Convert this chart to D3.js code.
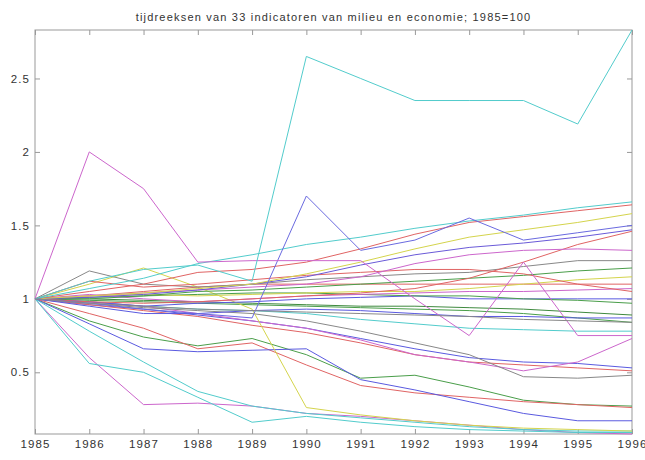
<!DOCTYPE html>
<html>
<head>
<meta charset="utf-8">
<script src="https://cdn.jsdelivr.net/npm/d3@7"></script>
<style>
    body { margin: 0; background: #fff; }
    text { font-family: "Liberation Sans", Arial, sans-serif; fill: #333; }
</style>
</head>
<body>
<div id="chart"></div>
<script>

// years on the x axis
const years = [1985, 1986, 1987, 1988, 1989, 1990, 1991, 1992, 1993, 1994, 1995, 1996];
const yTicks = [0.5, 1, 1.5, 2, 2.5];
const chartTitle = "tijdreeksen van 33 indicatoren van milieu en economie; 1985=100";

// the 33 indicators (1985 = 1)
const ind01 = [1, 0.98, 0.95, 0.93, 0.92, 0.90, 0.86, 0.83, 0.80, 0.79, 0.78, 0.78];
const ind02 = [1, 0.99, 0.98, 0.97, 0.96, 0.95, 0.94, 0.93, 0.92, 0.90, 0.87, 0.84];
const ind03 = [1, 1.00, 0.99, 0.98, 0.97, 0.96, 0.95, 0.95, 0.94, 0.93, 0.91, 0.89];
const ind04 = [1, 0.96, 0.93, 0.89, 0.85, 0.80, 0.73, 0.66, 0.60, 0.57, 0.56, 0.53];
const ind05 = [1, 0.96, 0.92, 0.88, 0.82, 0.77, 0.70, 0.62, 0.57, 0.55, 0.53, 0.51];
const ind06 = [1, 0.98, 0.95, 0.90, 0.85, 0.80, 0.72, 0.62, 0.57, 0.51, 0.57, 0.73];
const ind07 = [1, 0.85, 0.74, 0.68, 0.73, 0.62, 0.46, 0.48, 0.40, 0.31, 0.28, 0.27];
const ind08 = [1, 0.97, 0.94, 0.92, 0.90, 0.85, 0.78, 0.70, 0.62, 0.47, 0.46, 0.48];
const ind09 = [1, 0.90, 0.80, 0.66, 0.70, 0.55, 0.41, 0.36, 0.33, 0.30, 0.28, 0.26];
const ind10 = [1, 0.83, 0.66, 0.64, 0.65, 0.66, 0.45, 0.38, 0.30, 0.22, 0.17, 0.17];
const ind11 = [1, 0.60, 0.28, 0.29, 0.27, 0.22, 0.20, 0.17, 0.14, 0.11, 0.09, 0.08];
const ind12 = [1, 0.56, 0.50, 0.33, 0.16, 0.20, 0.16, 0.13, 0.11, 0.10, 0.09, 0.09];
const ind13 = [1, 0.78, 0.57, 0.37, 0.27, 0.22, 0.19, 0.16, 0.13, 0.11, 0.10, 0.10];
const ind14 = [1, 1.10, 1.21, 1.08, 0.93, 0.26, 0.21, 0.17, 0.14, 0.12, 0.11, 0.10];
const ind15 = [1, 0.95, 0.90, 0.90, 0.92, 0.93, 0.92, 0.90, 0.88, 0.88, 0.87, 0.87];
const ind16 = [1, 0.98, 0.95, 0.97, 0.98, 1.00, 1.01, 1.02, 1.00, 1.00, 1.00, 1.00];
const ind17 = [1, 1.01, 1.02, 1.03, 1.04, 1.04, 1.03, 1.02, 1.02, 1.00, 0.99, 0.97];
const ind18 = [1, 1.03, 1.00, 0.98, 1.00, 1.02, 1.03, 1.04, 1.05, 1.05, 1.06, 1.07];
const ind19 = [1, 1.02, 1.05, 1.08, 1.10, 1.10, 1.10, 1.10, 1.10, 1.10, 1.10, 1.10];
const ind20 = [1, 1.02, 1.03, 1.02, 1.03, 1.04, 1.05, 1.05, 1.07, 1.10, 1.13, 1.15];
const ind21 = [1, 1.00, 1.02, 1.05, 1.06, 1.08, 1.10, 1.12, 1.14, 1.16, 1.19, 1.21];
const ind22 = [1, 1.19, 1.10, 1.08, 1.10, 1.13, 1.15, 1.17, 1.18, 1.22, 1.26, 1.26];
const ind23 = [1, 1.12, 1.08, 1.10, 1.13, 1.16, 1.18, 1.20, 1.20, 1.17, 1.10, 1.05];
const ind24 = [1, 0.98, 0.97, 0.98, 1.00, 1.02, 1.04, 1.07, 1.14, 1.25, 1.37, 1.46];
const ind25 = [1, 1.02, 1.04, 1.06, 1.08, 1.10, 1.15, 1.24, 1.30, 1.33, 1.34, 1.33];
const ind26 = [1, 1.01, 1.03, 1.06, 1.10, 1.15, 1.23, 1.30, 1.35, 1.38, 1.42, 1.47];
const ind27 = [1, 1.02, 1.04, 1.07, 1.10, 1.17, 1.25, 1.34, 1.42, 1.47, 1.52, 1.58];
const ind28 = [1, 1.05, 1.10, 1.18, 1.20, 1.25, 1.34, 1.44, 1.52, 1.56, 1.60, 1.64];
const ind29 = [1, 1.07, 1.14, 1.24, 1.30, 1.37, 1.42, 1.48, 1.53, 1.57, 1.62, 1.66];
const ind30 = [1, 0.97, 0.93, 0.90, 0.87, 1.70, 1.33, 1.40, 1.55, 1.40, 1.45, 1.50];
const ind31 = [1, 2.00, 1.75, 1.25, 1.26, 1.26, 1.26, 1.00, 0.75, 1.25, 0.75, 0.75];
const ind32 = [1, 1.12, 1.20, 1.23, 1.12, 2.65, 2.50, 2.35, 2.35, 2.35, 2.19, 2.83];
const ind33 = [1, 0.97, 0.95, 0.93, 0.92, 0.91, 0.90, 0.89, 0.88, 0.86, 0.85, 0.84];

const indicators = [ind01, ind02, ind03, ind04, ind05, ind06, ind07, ind08, ind09, ind10, ind11,
    ind12, ind13, ind14, ind15, ind16, ind17, ind18, ind19, ind20, ind21, ind22,
    ind23, ind24, ind25, ind26, ind27, ind28, ind29, ind30, ind31, ind32, ind33];

const lineColors = [
    "#52cccc", "#4a9e4a", "#3f8a3f", "#5a5ae0", "#e06464", "#cc66cc", "#4a9e4a",
    "#888888", "#e06464", "#5a5ae0", "#cc66cc", "#52cccc", "#52cccc", "#d4d44c",
    "#5a5ae0", "#5a5ae0", "#4a9e4a", "#cc66cc", "#e06464", "#d4d44c", "#4a9e4a",
    "#888888", "#e06464", "#e06464", "#cc66cc", "#6a5ad8", "#d4d44c", "#e06464",
    "#52cccc", "#6a6ae0", "#cc66cc", "#52cccc", "#888888"
];


class IndicatorChart {

    constructor(_parentElement, _series, _colors) {
        this.parentElement = _parentElement;
        this.series = _series;
        this.colors = _colors;

        this.initVis();
    }

    initVis() {
        let vis = this;

        vis.margin = { top: 30, right: 13, bottom: 26, left: 35 };
        vis.width = 645 - vis.margin.left - vis.margin.right;
        vis.height = 460 - vis.margin.top - vis.margin.bottom;

        vis.root = d3.select("#" + vis.parentElement).append("svg")
            .attr("width", 645)
            .attr("height", 460);

        vis.root.append("text")
            .attr("x", vis.margin.left + vis.width / 2)
            .attr("y", 21)
            .attr("text-anchor", "middle")
            .attr("font-size", 11)
            .attr("letter-spacing", 1.2)
            .text(chartTitle);

        vis.svg = vis.root.append("g")
            .attr("transform", "translate(" + vis.margin.left + "," + vis.margin.top + ")");

        // axis tight, like matlab
        let allValues = vis.series.flat();

        vis.x = d3.scaleLinear()
            .domain(d3.extent(years))
            .range([0, vis.width]);

        vis.y = d3.scaleLinear()
            .domain(d3.extent(allValues))
            .range([vis.height, 0]);

        // box
        vis.svg.append("rect")
            .attr("width", vis.width)
            .attr("height", vis.height)
            .attr("fill", "#fff")
            .attr("stroke", "#999");

        vis.svg.append("g")
            .attr("class", "x-axis")
            .attr("transform", "translate(0," + vis.height + ")")
            .call(d3.axisBottom(vis.x).tickValues(years).tickFormat(d3.format("d"))
                .tickSizeInner(-5).tickSizeOuter(0).tickPadding(6));

        vis.svg.append("g")
            .call(d3.axisTop(vis.x).tickValues(years).tickFormat("")
                .tickSizeInner(-5).tickSizeOuter(0));

        vis.svg.append("g")
            .call(d3.axisLeft(vis.y).tickValues(yTicks).tickFormat(d => String(d))
                .tickSizeInner(-5).tickSizeOuter(0).tickPadding(5));

        vis.svg.append("g")
            .attr("transform", "translate(" + vis.width + ",0)")
            .call(d3.axisRight(vis.y).tickValues(yTicks).tickFormat("")
                .tickSizeInner(-5).tickSizeOuter(0));

        vis.svg.selectAll(".domain").remove();
        vis.svg.selectAll(".tick line").attr("stroke", "#999");
        vis.svg.selectAll(".tick text")
            .attr("font-size", 11.5)
            .attr("letter-spacing", 1.1)
            .attr("fill", "#333");

        vis.updateVis();
    }

    updateVis() {
        let vis = this;

        let line = d3.line()
            .x((d, i) => vis.x(years[i]))
            .y(d => vis.y(d));

        vis.svg.append("g")
            .selectAll("path.series")
            .data(vis.series)
            .enter()
            .append("path")
            .attr("class", "series")
            .attr("d", line)
            .attr("fill", "none")
            .attr("stroke", (d, i) => vis.colors[i])
            .attr("stroke-width", 1);
    }
}

new IndicatorChart("chart", indicators, lineColors);

</script>
</body>
</html>
